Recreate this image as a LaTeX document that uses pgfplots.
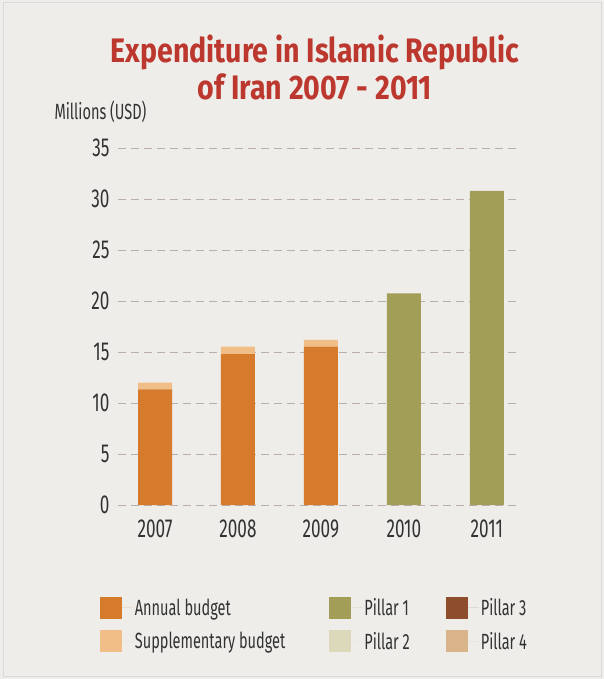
\documentclass[border=0pt]{standalone}
\usepackage{fontspec}
\usepackage{pgfplots}
\pgfplotsset{compat=1.18}
\newfontfamily\condf{Fira Sans}[FakeStretch=0.66]
\newfontfamily\titlef{Fira Sans}[FakeStretch=0.84]
\definecolor{bgpaper}{RGB}{238,237,234}
\definecolor{titlered}{RGB}{188,56,46}
\definecolor{annual}{RGB}{214,122,44}
\definecolor{suppl}{RGB}{242,190,136}
\definecolor{pillarA}{RGB}{162,158,87}
\definecolor{pillarB}{RGB}{220,216,186}
\definecolor{pillarC}{RGB}{142,78,43}
\definecolor{pillarD}{RGB}{217,180,138}
\definecolor{gridc}{RGB}{186,172,175}
\definecolor{txt}{RGB}{50,50,50}
\begin{document}
\begin{tikzpicture}
% paper
\fill[bgpaper] (0pt,0pt) rectangle (604pt,-679pt);
\draw[black!15,line width=1pt] (3pt,-3pt) rectangle (601pt,-676pt);
% title
\node[titlered,align=center,font={\titlef\bfseries\fontsize{34}{37}\selectfont}]
  at (315pt,-68pt) {Expenditure in Islamic Republic\\of Iran 2007 - 2011};
\node[txt,anchor=west,font={\condf\fontsize{22}{24}\selectfont}]
  at (51pt,-112pt) {Millions (USD)};
\begin{axis}[
    at={(118pt,-505pt)}, anchor=south west,
    scale only axis,
    width=402pt, height=357pt,
    ybar stacked,
    bar width=34pt,
    xmin=-0.446, xmax=4.4,
    ymin=0, ymax=35,
    xtick={0,1,2,3,4},
    xticklabels={2007,2008,2009,2010,2011},
    ytick={0,5,...,35},
    axis line style={draw=none},
    major tick length=0pt,
    ymajorgrids,
    grid style={gridc, line width=1pt, dash pattern=on 8pt off 5pt},
    /pgf/number format/assume math mode=true,
    tick label style={txt, font={\condf\fontsize{26}{28}\selectfont}},
    yticklabel style={xshift=-5pt},
    xticklabel style={yshift=-11pt},
    clip=false,
    legend columns=3,
    legend cell align=left,
    legend style={
        at={(-0.053,-0.25)}, anchor=north west,
        draw=none, fill=none,
        font={\condf\fontsize{22}{24}\selectfont}, text=txt,
        row sep=11pt,
        /tikz/column 2/.style={column sep=42pt},
        /tikz/column 4/.style={column sep=34pt},
    },
    legend image code/.code={
        \fill[#1] (0pt,-11pt) rectangle (22pt,11pt);
        \path (0pt,0pt) -- (33pt,0pt);
    },
]
\addplot[fill=annual, draw=none] coordinates {
    (0,11.34) (1,14.8) (2,15.52) (3,0) (4,0)
};
\addlegendentry{Annual budget}
\addplot[fill=pillarA, draw=none] coordinates {
    (0,0) (1,0) (2,0) (3,20.75) (4,30.8)
};
\addlegendentry{Pillar 1}
\addlegendimage{fill=pillarC, draw=none}
\addlegendentry{Pillar 3}
\addplot[fill=suppl, draw=none] coordinates {
    (0,0.65) (1,0.72) (2,0.66) (3,0) (4,0)
};
\addlegendentry{Supplementary budget}
\addlegendimage{fill=pillarB, draw=none}
\addlegendentry{Pillar 2}
\addlegendimage{fill=pillarD, draw=none}
\addlegendentry{Pillar 4}
\end{axis}
\end{tikzpicture}
\end{document}
